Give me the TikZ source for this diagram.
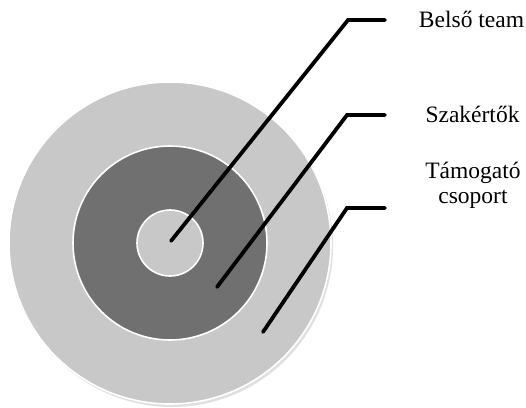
\documentclass[tikz,border=0pt]{standalone}
\usepackage{fontspec}
\setmainfont{Liberation Serif}
\begin{document}
\begin{tikzpicture}[x=1pt,y=-1pt,
  ring/.style={draw=white,line width=1.6pt},
  leader/.style={draw=black,line width=3.8pt,line cap=round,line join=miter},
  lab/.style={font=\fontsize{23.5}{25}\selectfont,inner sep=0pt,align=center}]
\useasboundingbox (0,0) rectangle (526,407);
\fill[black!12] (172,246) circle (161);
\node[ring,circle,fill={rgb,255:red,200;green,200;blue,200},minimum size=322pt,inner sep=0pt] (outer) at (170,243) {};
\node[ring,circle,fill={rgb,255:red,112;green,112;blue,112},minimum size=194pt,inner sep=0pt] (middle) at (170,243) {};
\node[ring,circle,fill={rgb,255:red,200;green,200;blue,200},minimum size=66pt,inner sep=0pt] (inner) at (170,243) {};
\coordinate (p1) at (171,241);
\coordinate (c1) at (348,20);
\coordinate (e1) at (385,20);
\coordinate (p2) at (217,287);
\coordinate (c2) at (347,115);
\coordinate (e2) at (385,115);
\coordinate (p3) at (263,332);
\coordinate (c3) at (347,208);
\coordinate (e3) at (385,208);
\draw[leader] (p1) -- (c1) -- (e1);
\draw[leader] (p2) -- (c2) -- (e2);
\draw[leader] (p3) -- (c3) -- (e3);
\node[lab,anchor=base] (l1) at (471.5,27) {Belső team};
\node[lab,anchor=base] (l2) at (472.5,122) {Szakértők};
\node[lab,anchor=base] (l3) at (473,203) {Támogató\\csoport};
\end{tikzpicture}
\end{document}
